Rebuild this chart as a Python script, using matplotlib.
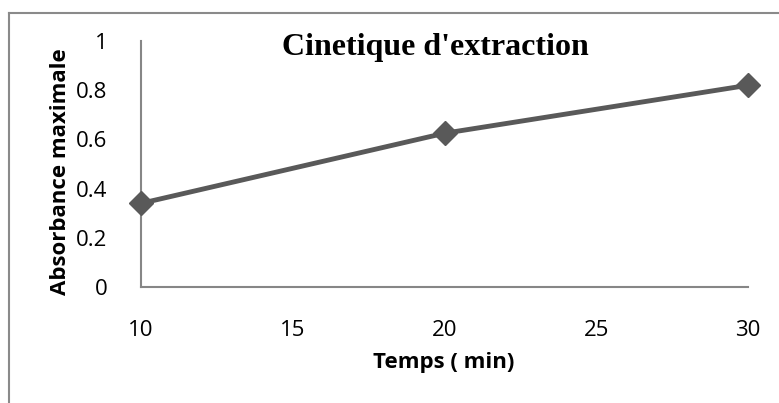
import matplotlib
matplotlib.use("Agg")
import matplotlib.pyplot as plt

temps = [10, 20, 30]
absorbance = [0.34, 0.625, 0.82]
xticks = [10, 15, 20, 25, 30]
yticks = [0, 0.2, 0.4, 0.6, 0.8, 1]
yticklabels = ["0", "0.2", "0.4", "0.6", "0.8", "1"]

W, H = 779, 403
fig = plt.figure(figsize=(W / 100, H / 100), dpi=100)

# outer chart border (cut off at right/bottom)
bx, by = 8.5 / W, 1 - 12.5 / H
bg = fig.add_axes([bx, -0.05, 1.05 - bx, by + 0.05], zorder=-5)
bg.set_xticks([])
bg.set_yticks([])
bg.patch.set_alpha(0)
for s in ["right", "bottom"]:
    bg.spines[s].set_visible(False)
for s in ["left", "top"]:
    bg.spines[s].set_color("#8a8a8a")
    bg.spines[s].set_linewidth(1.5)

ax = fig.add_axes([141 / W, 1 - 287 / H, (748 - 141) / W, (287 - 41) / H])
ax.patch.set_alpha(0)
ax.plot(temps, absorbance, color="#595959", linewidth=3.5, marker="D",
        markersize=12, markerfacecolor="#595959", markeredgecolor="#595959",
        clip_on=False, zorder=3)

ax.set_xlim(10, 30)
ax.set_ylim(0, 1)
ax.set_xticks(xticks)
ax.set_yticks(yticks)
ax.set_yticklabels(yticklabels)
for s in ["top", "right"]:
    ax.spines[s].set_visible(False)
for s in ["left", "bottom"]:
    ax.spines[s].set_color("#868686")
    ax.spines[s].set_linewidth(1.5)
ax.tick_params(axis="both", length=0, labelsize=16, colors="black")
ax.tick_params(axis="x", pad=24)
ax.tick_params(axis="y", pad=24)
for lab in ax.get_xticklabels() + ax.get_yticklabels():
    lab.set_family("Open Sans")

ax.set_xlabel("Temps ( min)", fontsize=16, fontweight="bold",
              family="Open Sans")
ax.xaxis.set_label_coords((444 - 141) / 607, -(352 - 287) / 246)
ax.set_ylabel("Absorbance maximale", fontsize=16, fontweight="bold",
              family="Open Sans")
ax.yaxis.set_label_coords(-(141 - 71) / 607, (287 - 172) / 246)

fig.text(435 / W, 1 - 48 / H, "Cinetique d'extraction", ha="center",
         va="center", fontsize=23, fontweight="bold", family="Liberation Serif")

fig.savefig("out.png", dpi=100, facecolor="white")
